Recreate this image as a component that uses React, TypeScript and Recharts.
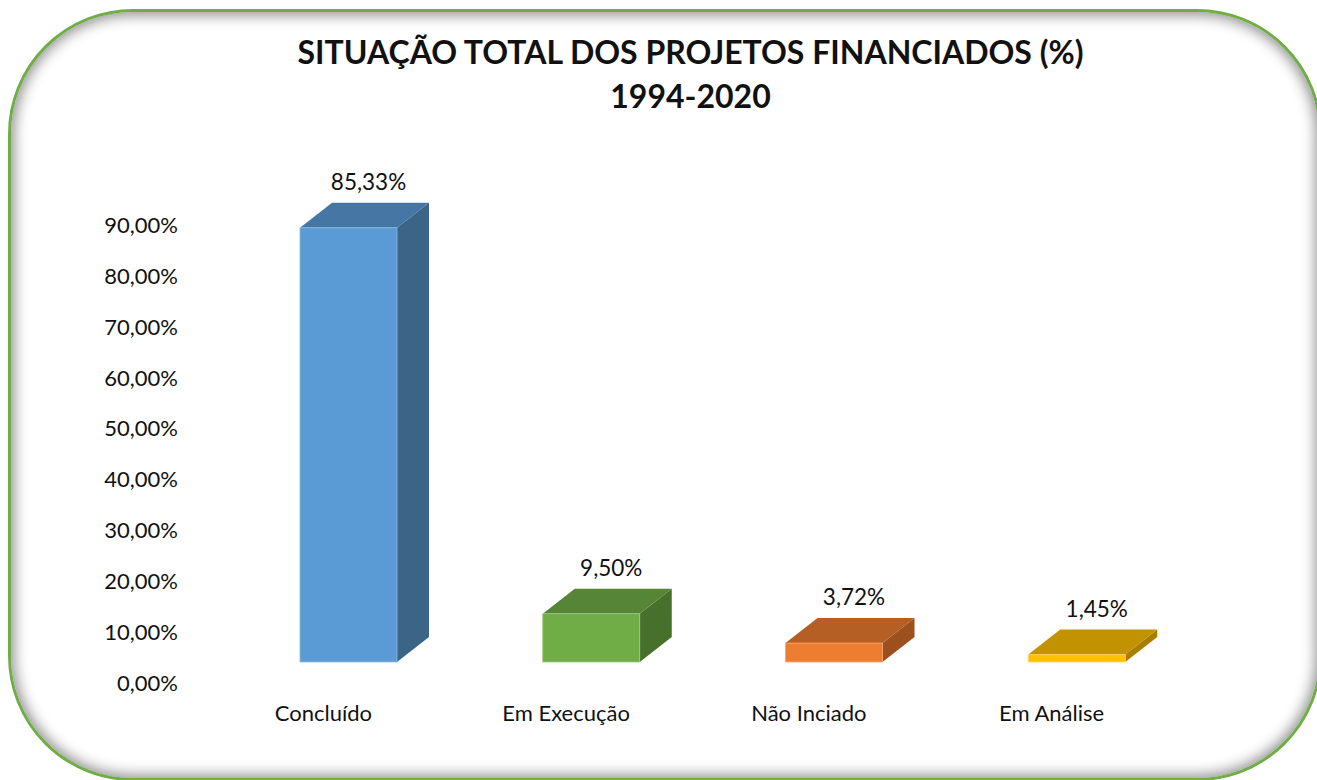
import React from 'react';
import { BarChart, Bar, XAxis, YAxis, Cell, LabelList } from 'recharts';

const categories = ['Concluído', 'Em Execução', 'Não Inciado', 'Em Análise'];
const values = [85.33, 9.5, 3.72, 1.45];
const valueLabels = ['85,33%', '9,50%', '3,72%', '1,45%'];
const yTicks = [0, 10, 20, 30, 40, 50, 60, 70, 80, 90];
const titleLines = ['SITUAÇÃO TOTAL DOS PROJETOS FINANCIADOS (%)', '1994-2020'];

const palette = [
  { front: '#5B9BD5', top: '#4676A3', side: '#3B6486', edge: '#8DB9E2' },
  { front: '#70AD47', top: '#578537', side: '#48702D', edge: '#9CC97E' },
  { front: '#ED7D31', top: '#B65F24', side: '#9C501E', edge: '#F4A772' },
  { front: '#FFC000', top: '#C39200', side: '#A87E00', edge: '#FFD75A' },
];

const data = categories.map((c, i) => ({ name: c, value: values[i], label: valueLabels[i] }));

const FONT = 'Lato, "Open Sans", sans-serif';
const DX = 25; // front face shift
const DY = -21;
const DEPTH_X = 32;
const DEPTH_Y = 25;

const Bar3D = (props: any) => {
  const { x, y, width, height, index } = props;
  const c = palette[index % palette.length];
  const fx = x + DX;
  const fy = y + DY;
  const w = width;
  const h = height;
  const top = `${fx},${fy} ${fx + DEPTH_X},${fy - DEPTH_Y} ${fx + w + DEPTH_X},${fy - DEPTH_Y} ${fx + w},${fy}`;
  const side = `${fx + w},${fy} ${fx + w + DEPTH_X},${fy - DEPTH_Y} ${fx + w + DEPTH_X},${fy + h - DEPTH_Y} ${fx + w},${fy + h}`;
  return (
    <g>
      <polygon points={side} fill={c.side} />
      <polygon points={top} fill={c.top} />
      <rect x={fx} y={fy} width={w} height={h} fill={c.front} stroke={c.edge} strokeWidth={0.8} />
    </g>
  );
};

const ValueLabel = (props: any) => {
  const { x, y, width, index } = props;
  const cx = x + DX + width / 2 + DEPTH_X / 2 + 4;
  const cy = y + DY - DEPTH_Y - 21;
  return (
    <text x={cx} y={cy} dy="0.36em" textAnchor="middle" fontFamily={FONT} fontSize={22.5} fill="#111">
      {valueLabels[index]}
    </text>
  );
};

const YTick = (props: any) => {
  const { x, y, payload } = props;
  const s = payload.value.toFixed(2).replace('.', ',') + '%';
  return (
    <text x={x} y={y} dy="0.36em" textAnchor="end" fontFamily={FONT} fontSize={22} fill="#111">
      {s}
    </text>
  );
};

const XTick = (props: any) => {
  const { x, y, payload } = props;
  return (
    <text x={x} y={y} dy="0.72em" textAnchor="middle" fontFamily={FONT} fontSize={22} fill="#111">
      {payload.value}
    </text>
  );
};

export default function App() {
  return (
    <div style={{ position: 'absolute', left: 0, top: 0, width: 1317, height: 780, overflow: 'hidden', background: '#fff' }}>
      <div
        style={{
          position: 'absolute',
          left: 8,
          top: 9,
          width: 1314 - 6,
          height: 772 - 6,
          border: '3px solid #70AD47',
          borderRadius: 125,
          boxShadow: 'inset 0 0 14px 3px rgba(0,0,0,0.45)',
          background: '#fff',
        }}
      />
      <div
        style={{
          position: 'absolute',
          left: 0,
          top: 30,
          width: 1381,
          textAlign: 'center',
          fontFamily: FONT,
          fontWeight: 700,
          fontSize: 32,
          lineHeight: '44px',
          color: '#111',
        }}
      >
        {titleLines.map((t) => (
          <div key={t}>{t}</div>
        ))}
      </div>
      <div style={{ position: 'absolute', left: 0, top: 0 }}>
        <BarChart
          width={1317}
          height={780}
          data={data}
          margin={{ top: 225, right: 144, bottom: 47, left: 102 }}
          barCategoryGap={0}
        >
          <XAxis
            dataKey="name"
            axisLine={false}
            tickLine={false}
            tickSize={0}
            tickMargin={22}
            height={50}
            tick={<XTick />}
            interval={0}
          />
          <YAxis
            domain={[0, 90]}
            ticks={yTicks}
            axisLine={false}
            tickLine={false}
            tickSize={0}
            tickMargin={24}
            width={100}
            tick={<YTick />}
            interval={0}
          />
          <Bar dataKey="value" barSize={97} shape={<Bar3D />} isAnimationActive={false}>
            {data.map((d, i) => (
              <Cell key={d.name} fill={palette[i].front} />
            ))}
            <LabelList dataKey="value" content={<ValueLabel />} />
          </Bar>
        </BarChart>
      </div>
    </div>
  );
}
